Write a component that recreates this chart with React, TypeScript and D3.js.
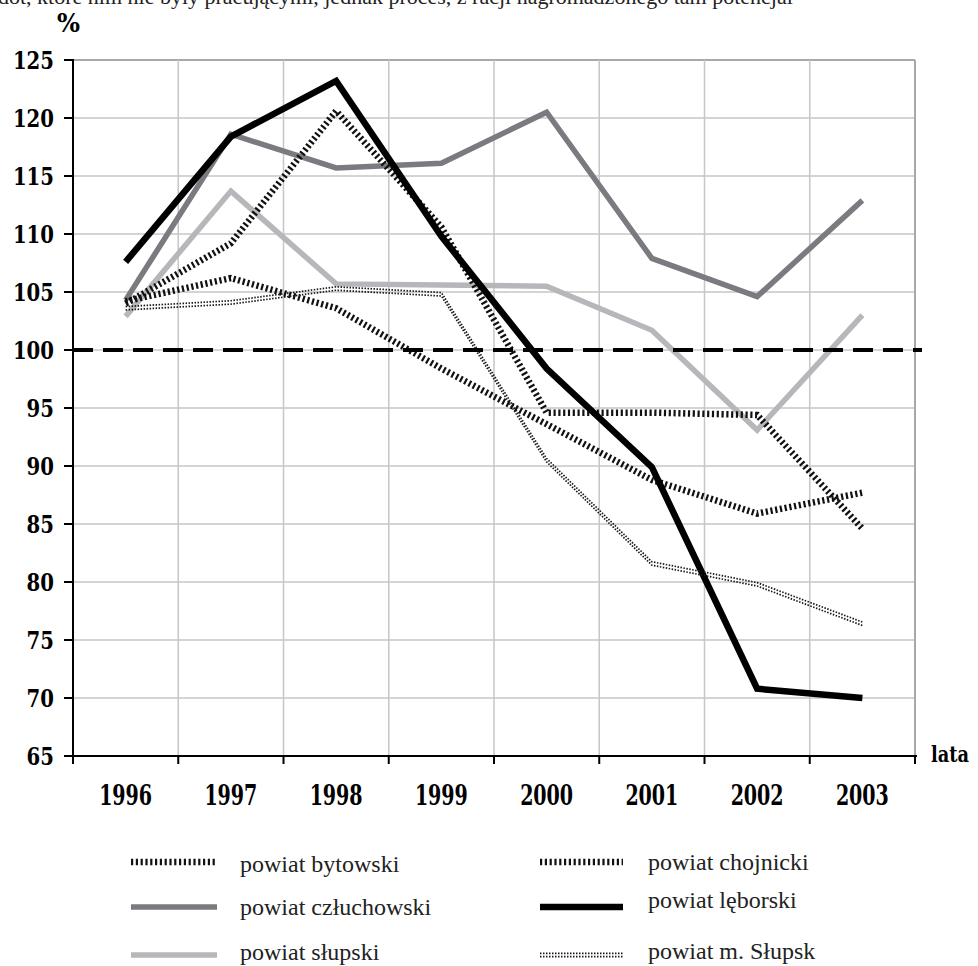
import * as d3 from 'd3'

const YEARS = ['1996', '1997', '1998', '1999', '2000', '2001', '2002', '2003']
const Y_TICKS = [65, 70, 75, 80, 85, 90, 95, 100, 105, 110, 115, 120, 125]

// dynamika w %
const BYTOWSKI = [104.0, 109.2, 120.6, 110.6, 94.6, 94.6, 94.4, 84.6]
const CHOJNICKI = [104.2, 106.2, 103.6, 98.4, 93.6, 88.8, 85.9, 87.7]
const CZLUCHOWSKI = [104.3, 118.6, 115.7, 116.1, 120.5, 107.9, 104.6, 112.9]
const LEBORSKI = [107.6, 118.4, 123.2, 109.8, 98.4, 89.9, 70.8, 70.0]
const SLUPSKI = [102.9, 113.7, 105.7, 105.6, 105.5, 101.7, 93.1, 103.0]
const M_SLUPSK = [103.6, 104.1, 105.3, 104.8, 90.5, 81.6, 79.8, 76.4]

const LEGEND_LEFT = ['powiat bytowski', 'powiat człuchowski', 'powiat słupski']
const LEGEND_RIGHT = ['powiat chojnicki', 'powiat lęborski', 'powiat m. Słupsk']

const TICK_FONT = "'DejaVu Serif Condensed', 'DejaVu Serif', serif"
const TEXT_FONT = "'Liberation Serif', 'Times New Roman', serif"

type Kind = 'hatch' | 'dark' | 'light' | 'black' | 'dots'

function Stroke({ d, kind }: { d: string; kind: Kind }) {
  if (kind === 'hatch')
    return <path d={d} fill="none" stroke="#111" strokeWidth={6.5} strokeDasharray="2.2 2.6" />
  if (kind === 'dark') return <path d={d} fill="none" stroke="#7a7b80" strokeWidth={5.5} />
  if (kind === 'light') return <path d={d} fill="none" stroke="#b6b7ba" strokeWidth={5.5} />
  if (kind === 'black') return <path d={d} fill="none" stroke="#000" strokeWidth={6.5} />
  return (
    <g fill="none" stroke="#1a1a1a" strokeWidth={1.7} strokeDasharray="1.5 1.5">
      <path d={d} transform="translate(0,-1.7)" />
      <path d={d} transform="translate(0,1.7)" />
    </g>
  )
}

export default function App() {
  const left = 73
  const right = 915
  const top = 60
  const bottom = 756

  const x = d3.scaleBand<string>().domain(YEARS).range([left, right])
  const y = d3.scaleLinear().domain([65, 125]).range([bottom, top])
  const cx = (i: number) => (x(YEARS[i]) ?? 0) + x.bandwidth() / 2

  const line = d3
    .line<number>()
    .x((_, i) => cx(i))
    .y((v) => y(v))

  const series: { values: number[]; kind: Kind }[] = [
    { values: CZLUCHOWSKI, kind: 'dark' },
    { values: SLUPSKI, kind: 'light' },
    { values: CHOJNICKI, kind: 'hatch' },
    { values: BYTOWSKI, kind: 'hatch' },
    { values: LEBORSKI, kind: 'black' },
    { values: M_SLUPSK, kind: 'dots' },
  ]

  const legendKindsLeft: Kind[] = ['hatch', 'dark', 'light']
  const legendKindsRight: Kind[] = ['hatch', 'black', 'dots']
  const sampleY = [862, 907, 955]
  const textYLeft = [872, 915, 960]
  const textYRight = [870, 908, 959]

  return (
    <svg
      width={978}
      height={966}
      style={{ position: 'absolute', left: 0, top: 0, background: '#fff' }}
    >
      {/* ucięty wiersz tekstu nad wykresem */}
      <text x={-2} y={4} fontFamily={TEXT_FONT} fontSize={22} fill="#222">
        dot, które nim nie były pracującymi, jednak proces, z racji nagromadzonego tam potencjał
      </text>

      <text x={57} y={32} fontFamily={TICK_FONT} fontWeight="bold" fontSize={26} textLength={23} lengthAdjust="spacingAndGlyphs">
        %
      </text>

      {/* siatka */}
      {Y_TICKS.filter((t) => t > 65).map((t) => (
        <line key={t} x1={left} x2={right} y1={y(t)} y2={y(t)} stroke={t === 125 ? '#a8a8a8' : '#c6c6c6'} strokeWidth={t === 125 ? 2 : 1.5} />
      ))}
      {YEARS.map((yr, i) => {
        const last = i === YEARS.length - 1
        const gx = last ? right : (x(YEARS[i + 1]) ?? 0)
        return (
          <line key={yr} x1={gx} x2={gx} y1={top} y2={bottom} stroke={last ? '#a8a8a8' : '#c6c6c6'} strokeWidth={last ? 2 : 1.5} />
        )
      })}

      {series.map((s, i) => (
        <Stroke key={i} d={line(s.values) ?? ''} kind={s.kind} />
      ))}

      <line x1={left} x2={right + 7} y1={y(100)} y2={y(100)} stroke="#000" strokeWidth={4} strokeDasharray="20 10" />

      {/* oś Y */}
      <line x1={left} x2={left} y1={top - 1} y2={bottom} stroke="#000" strokeWidth={2} />
      {Y_TICKS.map((t) => (
        <g key={t}>
          <line x1={left - 9} x2={left} y1={y(t)} y2={y(t)} stroke="#000" strokeWidth={2} />
          <text
            x={54}
            y={y(t) + 9}
            textAnchor="end"
            fontFamily={TICK_FONT}
            fontWeight="bold"
            fontSize={25}
            textLength={String(t).length * 13.7}
            lengthAdjust="spacingAndGlyphs"
          >
            {t}
          </text>
        </g>
      ))}

      {/* oś X */}
      <line x1={left - 9} x2={right + 2} y1={bottom} y2={bottom} stroke="#000" strokeWidth={2} />
      {[...YEARS.map((yr) => x(yr) ?? 0), right].map((gx, i) => (
        <line key={i} x1={gx} x2={gx} y1={bottom} y2={bottom + 8} stroke="#000" strokeWidth={2} />
      ))}
      {YEARS.map((yr, i) => (
        <text
          key={yr}
          x={cx(i)}
          y={805}
          textAnchor="middle"
          fontFamily={TICK_FONT}
          fontWeight="bold"
          fontSize={27}
          textLength={53}
          lengthAdjust="spacingAndGlyphs"
        >
          {yr}
        </text>
      ))}
      <text x={931} y={762} fontFamily={TICK_FONT} fontWeight="bold" fontSize={23} textLength={38} lengthAdjust="spacingAndGlyphs">
        lata
      </text>

      {/* legenda */}
      {LEGEND_LEFT.map((name, i) => (
        <g key={name}>
          <Stroke d={`M131,${sampleY[i]}H217`} kind={legendKindsLeft[i]} />
          <text x={240} y={textYLeft[i]} fontFamily={TEXT_FONT} fontSize={24} fill="#222">
            {name}
          </text>
        </g>
      ))}
      {LEGEND_RIGHT.map((name, i) => (
        <g key={name}>
          <Stroke d={`M540,${sampleY[i]}H623`} kind={legendKindsRight[i]} />
          <text x={648} y={textYRight[i]} fontFamily={TEXT_FONT} fontSize={24} fill="#222">
            {name}
          </text>
        </g>
      ))}
    </svg>
  )
}
